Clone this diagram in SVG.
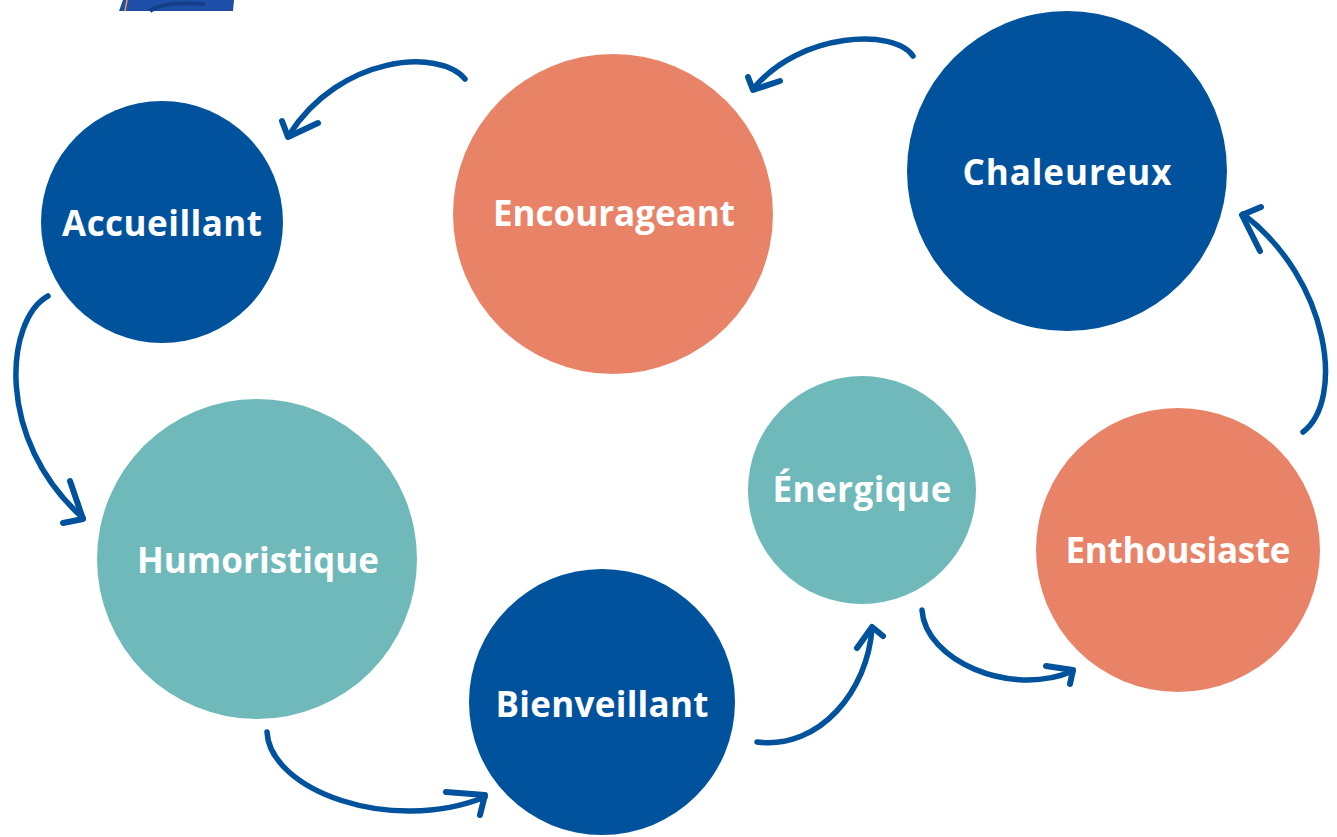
<svg xmlns="http://www.w3.org/2000/svg" width="1337" height="837" viewBox="0 0 1337 837">
<style>
.blue{fill:#01529C}
.orange{fill:#E98367}
.teal{fill:#6FB9BB}
.lbl{font-family:"Open Sans","Lato","Liberation Sans",sans-serif;font-weight:700;font-size:35px;fill:#FFFFFF;text-anchor:middle}
.arc{fill:none;stroke:#01529C;stroke-width:5.5;stroke-linecap:round;stroke-linejoin:round}
.head{fill:none;stroke:#01529C;stroke-width:6;stroke-linecap:round;stroke-linejoin:round}
</style>
<rect width="1337" height="837" fill="#FFFFFF"/>
<g id="corner">
<polygon points="123,0 234,0 233,11 119,11" fill="#1E4FA8"/>
<line x1="127" y1="0" x2="125" y2="11" stroke="#E9A04A" stroke-width="1.5"/>
<path d="M150,11 C160,4 180,2 205,4" fill="none" stroke="#163F8A" stroke-width="4"/>
</g>
<g id="accueillant"><circle class="blue" cx="162" cy="222" r="121"/><text class="lbl" x="162" y="236" textLength="200" lengthAdjust="spacing">Accueillant</text></g>
<g id="encourageant"><circle class="orange" cx="613" cy="214" r="160"/><text class="lbl" x="614" y="226" textLength="242" lengthAdjust="spacing">Encourageant</text></g>
<g id="chaleureux"><circle class="blue" cx="1067" cy="171" r="160"/><text class="lbl" x="1067" y="185" textLength="209" lengthAdjust="spacing">Chaleureux</text></g>
<g id="humoristique"><circle class="teal" cx="257" cy="559" r="160"/><text class="lbl" x="258" y="573" textLength="242" lengthAdjust="spacing">Humoristique</text></g>
<g id="bienveillant"><circle class="blue" cx="602" cy="702" r="133"/><text class="lbl" x="602" y="717" textLength="213" lengthAdjust="spacing">Bienveillant</text></g>
<g id="energique"><circle class="teal" cx="862" cy="490" r="114"/><text class="lbl" x="862" y="502" textLength="179" lengthAdjust="spacing">Énergique</text></g>
<g id="enthousiaste"><circle class="orange" cx="1178" cy="550" r="142"/><text class="lbl" x="1178" y="563" textLength="225" lengthAdjust="spacing">Enthousiaste</text></g>
<g id="connectors">
<path class="arc" d="M465,79 C440,48 340,55 289,135"/>
<path class="head" d="M282,121 L288,137 L318,123"/>
<path class="arc" d="M913,56 C895,28 800,32 754,88"/>
<path class="head" d="M748,77 L753,90 L780,81"/>
<path class="arc" d="M48,296 C5,320 -5,440 83,518"/>
<path class="head" d="M70,481 L83,519 L63,523"/>
<path class="arc" d="M1303,432 C1345,400 1330,280 1243,214"/>
<path class="head" d="M1261,207 L1242,215 L1260,251"/>
<path class="arc" d="M267,732 C270,790 390,835 485,797"/>
<path class="head" d="M446,792 L485,795 L480,815"/>
<path class="arc" d="M757,742 C820,750 868,690 872,628"/>
<path class="head" d="M857,648 L872,627 L883,636"/>
<path class="arc" d="M922,610 C925,660 1010,698 1073,671"/>
<path class="head" d="M1046,666 L1073,670 L1070,684"/>
</g>
</svg>
